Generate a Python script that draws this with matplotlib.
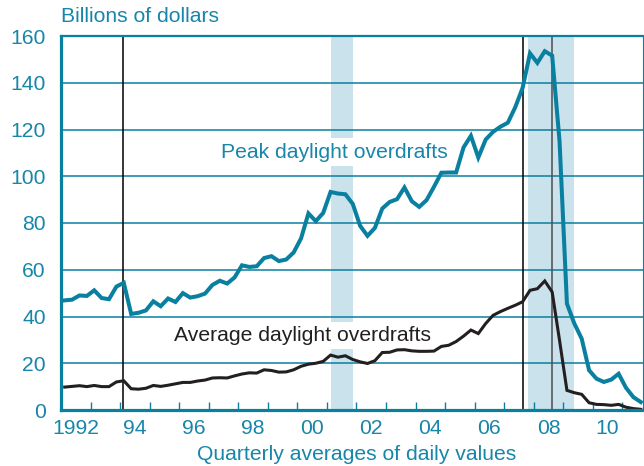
import numpy as np
import matplotlib
matplotlib.use("Agg")
import matplotlib.pyplot as plt

# quarterly values, 1992 Q1 .. 2011 Q3 (billions of dollars)
start_year = 1992
peak_overdrafts = [
    46.9, 47.2, 49.0, 48.8, 51.2, 47.9, 47.4, 52.8,
    54.4, 41.1, 41.6, 42.6, 46.5, 44.4, 47.7, 46.2,
    50.0, 48.1, 48.7, 49.8, 53.5, 55.3, 54.1, 56.7,
    61.9, 61.2, 61.5, 65.0, 65.8, 63.7, 64.4, 67.4,
    73.4, 84.1, 80.8, 84.3, 93.3, 92.6, 92.3, 88.2,
    78.8, 74.5, 77.9, 86.2, 89.0, 90.2, 95.2, 89.3,
    86.9, 89.8, 95.5, 101.5, 101.6, 101.6, 112.3, 117.3,
    108.0, 115.7, 119.0, 121.2, 122.9, 129.5, 137.8, 152.6,
    148.5, 153.5, 151.6, 115.0, 45.5, 37.0, 30.5, 17.0,
    13.4, 12.0, 13.0, 15.5, 9.5, 5.5, 3.4,
]
average_overdrafts = [
    9.8, 10.1, 10.4, 10.0, 10.5, 10.0, 10.0, 12.0,
    12.5, 9.1, 8.9, 9.3, 10.5, 10.1, 10.6, 11.2,
    11.8, 11.8, 12.4, 12.8, 13.7, 13.8, 13.7, 14.6,
    15.4, 15.9, 15.8, 17.2, 16.9, 16.2, 16.3, 17.2,
    18.7, 19.6, 20.0, 20.8, 23.5, 22.6, 23.2, 21.6,
    20.6, 19.9, 21.1, 24.6, 24.7, 25.7, 25.8, 25.3,
    25.1, 25.1, 25.2, 27.2, 27.7, 29.3, 31.6, 34.2,
    32.7, 37.0, 40.5, 42.1, 43.5, 44.8, 46.3, 51.2,
    51.9, 55.2, 50.5, 29.8, 8.4, 7.4, 6.7, 3.1,
    2.4, 2.3, 2.0, 2.4, 1.2, 0.6, 0.3,
]

recessions = [(2001.15, 2001.88), (2007.82, 2009.36)]
policy_lines = [1994.1, 2007.63, 2008.63]
policy_colors = ["black", "black", "#4d4d4d"]

year_labels = ["1992", "94", "96", "98", "00", "02", "04", "06", "08", "10"]
y_ticks = [0, 20, 40, 60, 80, 100, 120, 140, 160]

teal = "#0A80A0"
text_teal = "#1786A8"
band_color = "#C9E2EC"
fs = 15.2

plt.rcParams["font.family"] = ["Liberation Sans", "DejaVu Sans"]

fig = plt.figure(figsize=(6.44, 4.66), dpi=100)
ax = fig.add_axes([61 / 644, 56 / 466, 582 / 644, 374 / 466])

quarters = start_year + 0.125 + 0.25 * np.arange(len(peak_overdrafts))

for (x0, x1) in recessions:
    ax.axvspan(x0, x1, color=band_color, lw=0, zorder=0.5)

for yv in y_ticks[1:-1]:
    ax.axhline(yv, color=teal, lw=1.1, zorder=1)

for xv, c in zip(policy_lines, policy_colors):
    ax.axvline(xv, color=c, lw=1.1, zorder=1.5)

ax.plot(quarters, peak_overdrafts, color=teal, lw=2.9, zorder=3,
        solid_joinstyle="miter")
ax.plot(quarters, average_overdrafts, color="#231F20", lw=2.2, zorder=3,
        solid_joinstyle="miter")

ax.text(1997.42, 110.3, "Peak daylight overdrafts", color=text_teal, fontsize=fs,
        ha="left", va="center", zorder=2,
        bbox=dict(facecolor="white", edgecolor="none", boxstyle="square,pad=0.2"))
ax.text(1995.83, 31.9, "Average daylight overdrafts", color="#231F20", fontsize=fs,
        ha="left", va="center", zorder=2,
        bbox=dict(facecolor="white", edgecolor="none", boxstyle="square,pad=0.2"))

ax.set_xlim(1992, 2011.7)
ax.set_ylim(0, 160)

ax.set_yticks(y_ticks)
ax.set_yticklabels([str(v) for v in y_ticks])
ax.tick_params(axis="y", length=0, pad=11, labelsize=fs, labelcolor=text_teal)

ax.set_xticks(np.arange(1993, 2012))
ax.set_xticklabels([])
ax.tick_params(axis="x", which="major", direction="in", length=5.5, width=1,
               color=teal)
ax.set_xticks(np.arange(1992.5, 2011, 2), minor=True)
ax.set_xticklabels(year_labels, minor=True)
ax.tick_params(axis="x", which="minor", length=0, pad=6.5, labelsize=fs,
               labelcolor=text_teal)

ax.spines["left"].set_linewidth(2.3)
ax.spines["bottom"].set_linewidth(2.3)
ax.spines["top"].set_linewidth(1.6)
ax.spines["right"].set_linewidth(0.8)
for s in ax.spines.values():
    s.set_color(teal)
    s.set_zorder(4)

fig.text(61 / 644, 1 - 17 / 466, "Billions of dollars", color=text_teal,
         fontsize=fs, ha="left", va="center")
fig.text(357 / 644, 1 - 455 / 466, "Quarterly averages of daily values",
         color=text_teal, fontsize=fs, ha="center", va="center")

fig.savefig("out.png", dpi=100)
